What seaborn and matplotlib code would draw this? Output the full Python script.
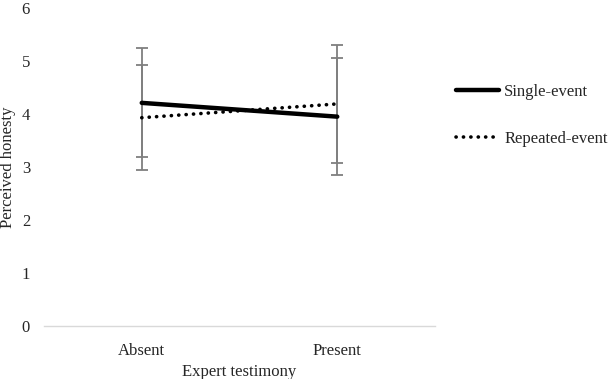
import matplotlib
matplotlib.use("Agg")
import matplotlib.pyplot as plt
import seaborn as sns
import pandas as pd

# values
conditions = ["Absent", "Present"]
groups = ["Single-event", "Repeated-event"]
single_means = [4.21, 3.95]
repeated_means = [3.93, 4.19]
single_err = [1.03, 1.10]
repeated_err = [0.99, 1.11]
y_ticks = [0, 1, 2, 3, 4, 5, 6]

df = pd.DataFrame({
    "Expert testimony": conditions * 2,
    "Perceived honesty": single_means + repeated_means,
    "group": [groups[0]] * 2 + [groups[1]] * 2,
})

sns.set_style("white")
plt.rcParams["font.family"] = ["Liberation Serif", "DejaVu Serif"]
plt.rcParams["font.size"] = 12

fig = plt.figure(figsize=(6.08, 3.79), dpi=100)
ax = fig.add_axes([44 / 608, 1 - 326 / 379, (435 - 44) / 608, (326 - 8) / 379])

# grey error bars first so the lines sit on top
for means, errs in [(single_means, single_err), (repeated_means, repeated_err)]:
    ax.errorbar([0, 1], means, yerr=errs, fmt="none", ecolor="#7f7f7f",
                elinewidth=1.3, capsize=4, capthick=1.3, zorder=1)

sns.pointplot(data=df, x="Expert testimony", y="Perceived honesty", hue="group",
              hue_order=groups, palette=["black", "black"], markers=["", ""],
              linestyles=["-", ":"], errorbar=None, ax=ax, legend=False)

data_lines = [l for l in ax.get_lines() if l.get_linestyle() in ("-", ":") and l.get_marker() in ("", "None", None)]
solid = data_lines[-2]
dotted = data_lines[-1]
solid.set_linewidth(3.2)
solid.set_zorder(3)
dotted.set_linewidth(2.6)
dotted.set_linestyle((0, (0.05, 2.0)))
dotted.set_dash_capstyle("round")
dotted.set_zorder(3)

ax.set_ylim(0, 6)
ax.set_yticks(y_ticks)
ax.set_xlim(-0.5, 1.5)
ax.tick_params(axis="both", length=0, labelsize=12)
ax.tick_params(axis="y", pad=10)
ax.tick_params(axis="x", pad=12)
for side in ["left", "right", "top"]:
    ax.spines[side].set_visible(False)
ax.spines["bottom"].set_color("#d9d9d9")
ax.spines["bottom"].set_linewidth(1)
ax.set_xlabel("Expert testimony", fontsize=12, labelpad=4)
ax.set_ylabel("Perceived honesty", fontsize=12)
ax.yaxis.set_label_coords(-0.072, 0.5)
ax.grid(False)

fig.legend([solid, dotted], groups, loc="center left", frameon=False,
           bbox_to_anchor=(456 / 608, 1 - 115.5 / 379), borderpad=0,
           borderaxespad=0, handlelength=2.6, handletextpad=0.3,
           labelspacing=1.9, fontsize=12)

fig.savefig("out.png", dpi=100)
